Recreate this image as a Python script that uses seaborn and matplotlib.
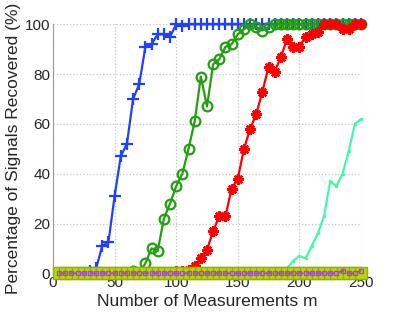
import matplotlib
matplotlib.use("Agg")
import matplotlib.pyplot as plt
import seaborn as sns
import pandas as pd

# ─── Data ─────────────────────────────────────────────────────────────────────
m_values = list(range(5, 251, 5))

blue_pct = [0, 0, 0, 0, 0, 1, 2, 11, 12.5, 31,
            47, 52, 70, 76, 91, 92, 96, 96, 95, 100,
            99.5, 100, 100, 100, 100, 100, 100, 100, 100, 100,
            100, 100, 100, 100, 100, 100, 100, 100, 100, 100,
            100, 100, 100, 100, 100, 100, 100, 100, 100, 100]

green_pct = [0, 0, 0, 0, 0, 0, 0, 0, 0, 0,
             0, 0, 1, 0, 4, 10, 9, 22, 28, 35,
             40, 50, 61, 79, 67, 84, 86, 91, 92, 96,
             98, 100, 99, 97.5, 99, 100, 100, 100, 100, 100,
             100, 100, 100, 100, 100, 100, 100, 100, 100, 100]

red_pct = [0, 0, 0, 0, 0, 0, 0, 0, 0, 0,
           0, 0, 0, 0, 0, 0, 0, 0, 0, 1,
           1, 1.5, 3, 6, 9.5, 17, 23, 23, 34, 38,
           50, 58, 64, 73, 83, 81, 87, 94, 91, 91,
           95, 96, 97, 100, 100, 100, 98, 98, 100, 100]

aqua_pct = [0, 0, 0, 0, 0, 0, 0, 0, 0, 0,
            0, 0, 0, 0, 0, 0, 0, 0, 0, 0,
            0, 0, 0, 0, 0, 0, 0, 0, 0, 0,
            0, 0, 0, 0, 0, 0, 1, 2, 5, 7,
            6, 11, 16, 23, 37, 35, 40, 49, 60, 62]

yellow_pct = [0] * 50

purple_pct = [0, 0, 0, 0, 0, 0, 0, 0, 0, 0,
              0, 0, 0, 0, 0, 0, 0, 0, 0, 0,
              0, 0, 0, 0, 0, 0, 0, 0, 0, 0,
              0, 0, 0, 0, 0, 0, 0, 0, 0, 0,
              0, 0, 0, 0, 0, 0, 1, 0, 0, 1]

x_ticks = [0, 50, 100, 150, 200, 250]
y_ticks = [0, 20, 40, 60, 80, 100]

# ─── Style ────────────────────────────────────────────────────────────────────
sns.set_style("white")
plt.rcParams["font.family"] = ["Liberation Sans", "DejaVu Sans"]

fig = plt.figure(figsize=(4.02, 3.12), dpi=100)
ax = fig.add_axes([53 / 402, 38.7 / 312, (361 - 53) / 402, (273.3 - 24.3) / 312])

df = pd.DataFrame({"m": m_values})

series = [
    (blue_pct, dict(color="#2040FF", marker="+", markersize=8, markeredgewidth=1.6,
                    markeredgecolor="#2040FF", linewidth=1.6)),
    (green_pct, dict(color="#22A010", marker="o", markersize=7, markeredgewidth=1.6,
                     markeredgecolor="#22A010", markerfacecolor="none", linewidth=1.6)),
    (red_pct, dict(color="#FF0000", marker=(8, 2, 0), markersize=7.5, markeredgewidth=1.8,
                   markeredgecolor="#FF0000", linewidth=1.6)),
    (aqua_pct, dict(color="#44F8AA", marker=".", markersize=4, markeredgewidth=0.5,
                    markeredgecolor="#44F8AA", linewidth=1.6)),
    (yellow_pct, dict(color="#B8D800", marker="s", markersize=8, markeredgewidth=1.0,
                      markeredgecolor="#8CB400", linewidth=6)),
    (purple_pct, dict(color="#B040E8", marker="s", markersize=3, markeredgewidth=1.0,
                      markeredgecolor="#B040E8", markerfacecolor="none",
                      linewidth=1.4, linestyle="--")),
]

for vals, kws in series:
    d = df.assign(pct=vals)
    sns.lineplot(data=d, x="m", y="pct", ax=ax, clip_on=False, zorder=3, **kws)

ax.set_xlim(0, 250)
ax.set_ylim(0, 100)
ax.set_xticks(x_ticks)
ax.set_yticks(y_ticks)
ax.grid(True, linestyle=":", color="#C4C4C4", linewidth=0.9)
ax.tick_params(length=0, labelsize=11, pad=2)

for side in ("top", "right"):
    ax.spines[side].set_visible(False)
for side in ("left", "bottom"):
    ax.spines[side].set_color("#999999")
    ax.spines[side].set_linewidth(0.8)

ax.set_xlabel("Number of Measurements m", fontsize=12.5, labelpad=3)
ax.set_ylabel("Percentage of Signals Recovered (%)", fontsize=12.5, labelpad=3)

fig.savefig("out.png", dpi=100)
